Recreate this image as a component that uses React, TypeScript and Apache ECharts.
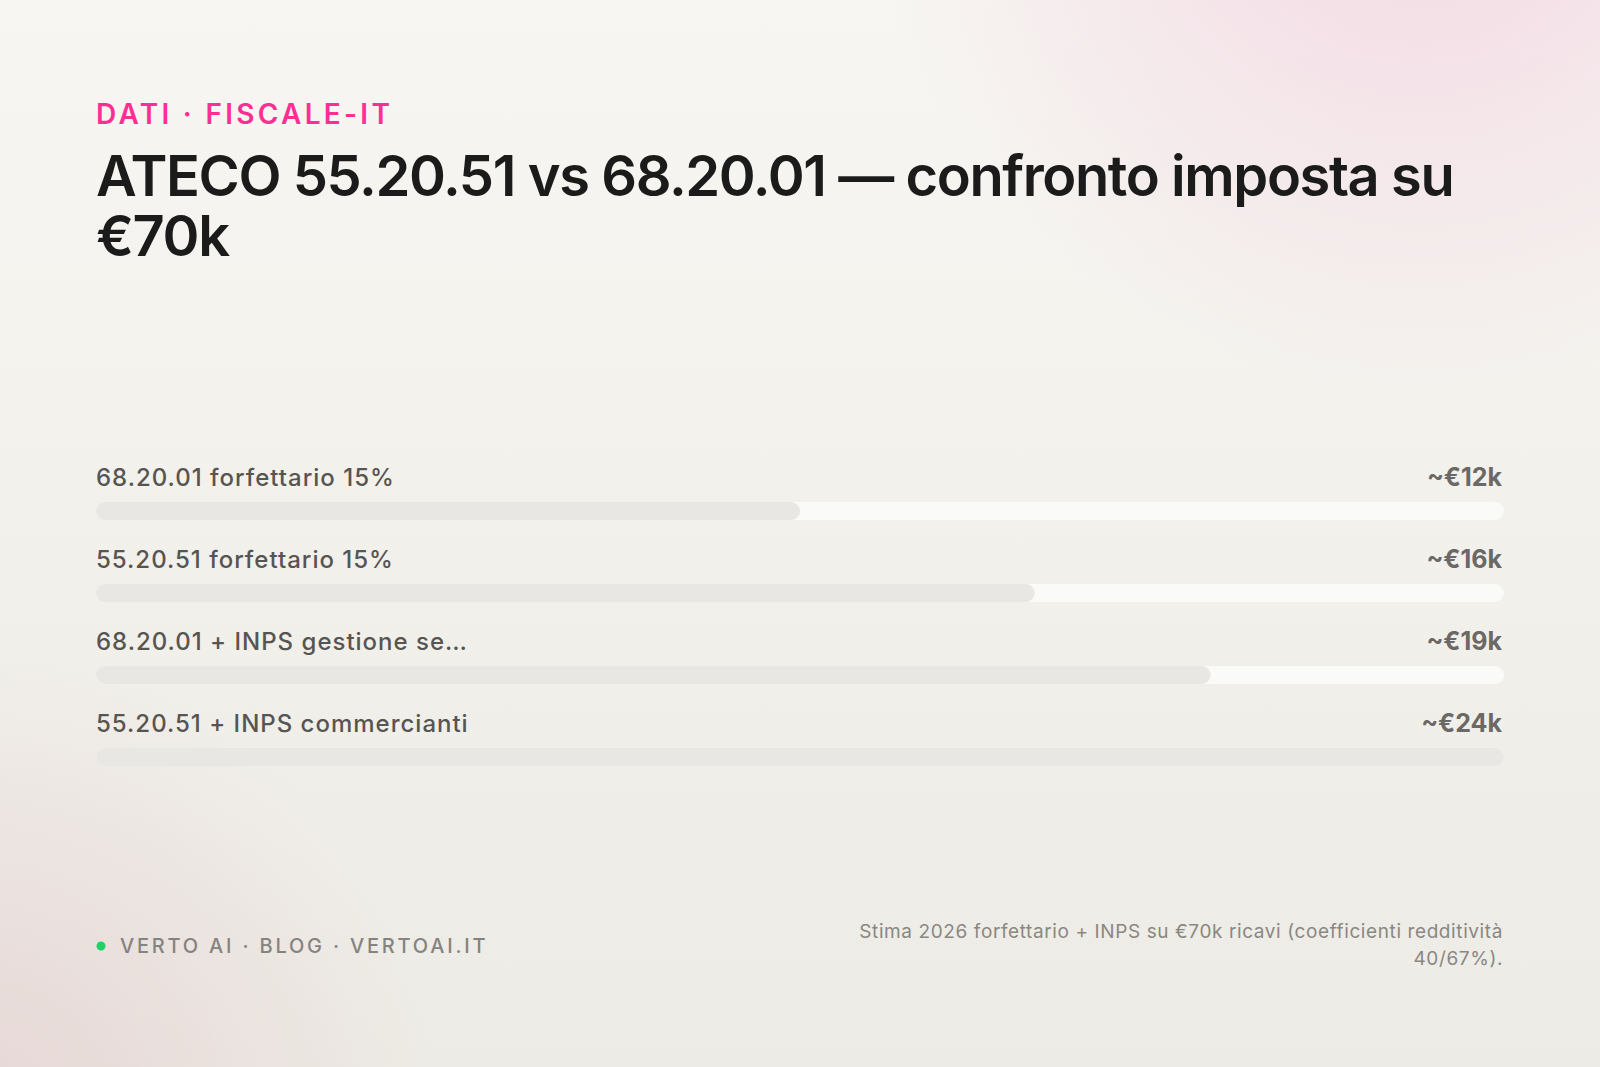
import React, { useEffect, useRef } from 'react';
import * as echarts from 'echarts';

// dati del confronto (valori in migliaia di euro)
const categories = [
  '68.20.01 forfettario 15%',
  '55.20.51 forfettario 15%',
  '68.20.01 + INPS gestione separata',
  '55.20.51 + INPS commercianti'
];
const values = [12, 16, 19, 24];
const valueMax = 24;

const eyebrow = 'DATI · FISCALE-IT';
const headingLines = ['ATECO 55.20.51 vs 68.20.01 — confronto imposta su', '€70k'];
const footerLeft = 'VERTO AI · BLOG · VERTOAI.IT';
const footnoteLines = ['Stima 2026 forfettario + INPS su €70k ricavi (coefficienti redditività', '40/67%).'];

const FONT = 'Inter, "Noto Sans", sans-serif';

const shortLabel = (s: string) => (s.length > 28 ? s.slice(0, 27) + '…' : s);

const App: React.FC = () => {
  const chartRef = useRef<HTMLDivElement>(null);

  useEffect(() => {
    document.body.style.margin = '0';
    if (!chartRef.current) return;
    const chart = echarts.init(chartRef.current, undefined, { renderer: 'svg' });

    const option = {
      animation: false,
      backgroundColor: new echarts.graphic.LinearGradient(0, 0, 0, 1, [
        { offset: 0, color: '#f7f6f2' },
        { offset: 1, color: '#edebe5' }
      ]),
      title: [
        {
          text: eyebrow,
          left: 96,
          top: 100,
          padding: 0,
          textStyle: { fontFamily: FONT, fontSize: 28, fontWeight: 600, color: '#ff2e93', lineHeight: 28 }
        },
        {
          text: headingLines.join('\n'),
          left: 96,
          top: 146,
          padding: 0,
          textStyle: { fontFamily: FONT, fontSize: 56, fontWeight: 600, color: '#1b1b1b', lineHeight: 60 }
        }
      ],
      graphic: [
        {
          type: 'circle',
          z: -10,
          silent: true,
          shape: { cx: 1420, cy: -170, r: 560 },
          style: {
            fill: new echarts.graphic.RadialGradient(0.5, 0.5, 0.5, [
              { offset: 0, color: 'rgba(242,210,224,0.9)' },
              { offset: 1, color: 'rgba(242,210,224,0)' }
            ])
          }
        },
        {
          type: 'circle',
          z: -10,
          silent: true,
          shape: { cx: -40, cy: 1130, r: 480 },
          style: {
            fill: new echarts.graphic.RadialGradient(0.5, 0.5, 0.5, [
              { offset: 0, color: 'rgba(228,208,208,0.8)' },
              { offset: 1, color: 'rgba(228,208,208,0)' }
            ])
          }
        },
        {
          type: 'circle',
          shape: { cx: 101, cy: 946, r: 4.5 },
          style: { fill: '#22d065' }
        },
        {
          type: 'text',
          x: 120,
          y: 946,
          style: {
            text: footerLeft,
            fontFamily: FONT,
            fontSize: 20,
            fontWeight: 500,
            fill: '#858380',
            verticalAlign: 'middle'
          }
        },
        {
          type: 'text',
          x: 1503,
          y: 918,
          style: {
            text: footnoteLines.join('\n'),
            fontFamily: FONT,
            fontSize: 19,
            fill: '#8a8782',
            align: 'right',
            verticalAlign: 'top',
            lineHeight: 27
          }
        }
      ],
      grid: { left: 96, right: 96, top: 470, height: 328, containLabel: false },
      xAxis: { type: 'value', min: 0, max: valueMax, show: false },
      yAxis: [
        {
          type: 'category',
          data: categories,
          inverse: true,
          axisLine: { show: false },
          axisTick: { show: false },
          splitLine: { show: false },
          axisLabel: {
            inside: true,
            margin: 0,
            align: 'left',
            verticalAlign: 'bottom',
            padding: [0, 0, 22, 0],
            lineHeight: 24,
            fontFamily: FONT,
            fontSize: 24,
            fontWeight: 500,
            color: '#575552',
            formatter: (v: string) => shortLabel(v)
          }
        },
        {
          type: 'category',
          position: 'right',
          data: categories,
          inverse: true,
          axisLine: { show: false },
          axisTick: { show: false },
          splitLine: { show: false },
          axisLabel: {
            inside: true,
            margin: 2,
            align: 'right',
            verticalAlign: 'bottom',
            padding: [0, 0, 22, 0],
            lineHeight: 25,
            fontFamily: FONT,
            fontSize: 25,
            fontWeight: 700,
            color: '#6b6966',
            formatter: (_: string, i: number) => `~€${values[i]}k`
          }
        }
      ],
      series: [
        {
          type: 'bar',
          yAxisIndex: 0,
          data: values,
          barWidth: 18,
          itemStyle: { color: '#e8e7e4', borderRadius: 9 },
          showBackground: true,
          backgroundStyle: { color: '#fafaf8', borderRadius: 9 },
          silent: true
        }
      ]
    };

    // spaziatura lettere (echarts non la gestisce): applicata ai <text> svg
    const spacing: Record<string, string> = {
      [eyebrow]: '3.3px',
      [footerLeft]: '2.8px',
      [headingLines[0]]: '-1.4px',
      [headingLines[1]]: '-1.4px',
      [footnoteLines[0]]: '0.6px',
      [footnoteLines[1]]: '0.6px'
    };
    categories.forEach((c) => {
      spacing[shortLabel(c)] = '1px';
    });
    const applySpacing = () => {
      chartRef.current?.querySelectorAll('text').forEach((t) => {
        const ls = spacing[(t.textContent || '').trim()];
        if (ls) (t as SVGTextElement).style.letterSpacing = ls;
      });
    };
    chart.on('finished', applySpacing);

    chart.setOption(option);
    applySpacing();
    const timer = window.setTimeout(applySpacing, 50);

    return () => {
      window.clearTimeout(timer);
      chart.dispose();
    };
  }, []);

  return <div ref={chartRef} style={{ width: 1600, height: 1067 }} />;
};

export default App;
